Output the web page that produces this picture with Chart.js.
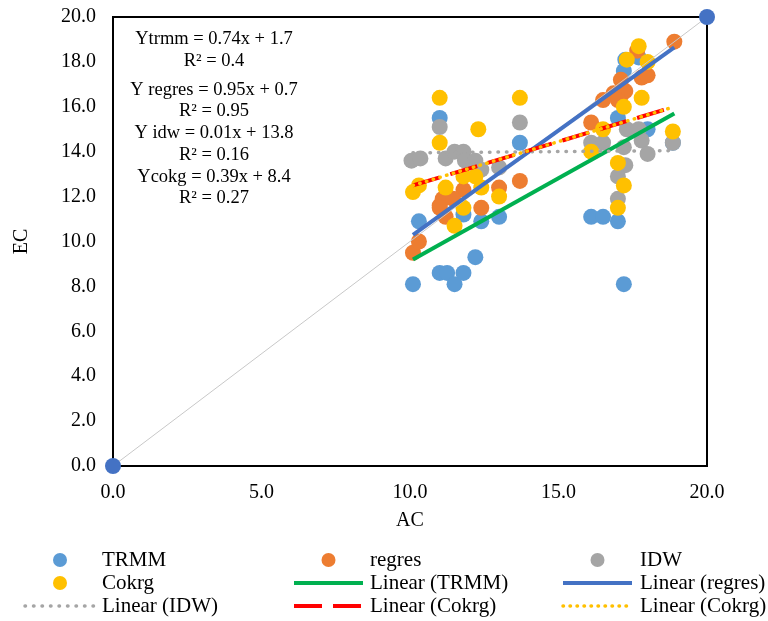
<!DOCTYPE html>
<html>
<head>
<meta charset="utf-8">
<script src="https://cdn.jsdelivr.net/npm/chart.js@4.4.0/dist/chart.umd.min.js"></script>
<style>
  html, body { margin: 0; padding: 0; background: #fff; }
  #wrap { width: 768px; height: 621px; }
</style>
</head>
<body>
<div id="wrap"><canvas id="chart" width="768" height="621"></canvas></div>
<script>
// values
const trmmX   = [10.1, 10.3, 11.0, 11.25, 11.5, 11.8, 12.2, 11.8, 12.4, 13.0, 11.0, 13.7, 17.25, 17.2, 17.7, 17.0, 18.0, 18.85, 16.1, 16.5, 17.0, 17.2];
const trmmY   = [8.1, 10.9, 8.6, 8.6, 8.1, 8.6, 9.3, 11.2, 10.9, 11.1, 15.5, 14.4, 18.1, 17.6, 18.2, 15.5, 15.0, 14.4, 11.1, 11.1, 10.9, 8.1];
const regresX = [10.1, 10.3, 11.0, 11.2, 12.4, 11.1, 11.8, 13.0, 13.7, 11.0, 11.45, 18.9, 17.65, 17.8, 18.0, 17.1, 17.1, 16.85, 16.5, 16.1, 17.25, 17.0];
const regresY = [9.5, 10.0, 11.6, 11.1, 11.5, 11.9, 12.3, 12.4, 12.7, 11.5, 11.9, 18.9, 18.5, 17.3, 17.4, 17.2, 16.5, 16.6, 16.3, 15.3, 16.7, 16.3];
const idwX    = [11.0, 13.7, 10.05, 10.35, 11.2, 11.5, 11.8, 11.85, 12.2, 12.4, 13.0, 16.1, 16.5, 17.3, 17.7, 17.8, 17.2, 18.85, 18.0, 17.25, 17.0, 17.0];
const idwY    = [15.1, 15.3, 13.6, 13.7, 13.7, 14.0, 14.0, 13.6, 13.6, 13.2, 13.3, 14.4, 14.4, 15.0, 15.0, 14.5, 14.2, 14.4, 13.9, 13.4, 12.9, 11.9];
const cokrgX  = [11.0, 13.7, 12.3, 11.0, 10.1, 10.3, 11.2, 11.8, 12.2, 12.4, 13.0, 11.5, 11.8, 17.7, 17.3, 18.0, 17.8, 17.2, 16.5, 18.85, 16.1, 17.0, 17.2, 17.0];
const cokrgY  = [16.4, 16.4, 15.0, 14.4, 12.2, 12.5, 12.4, 12.9, 12.9, 12.4, 12.0, 10.7, 11.5, 18.7, 18.1, 18.0, 16.4, 16.0, 15.0, 14.9, 14.0, 13.5, 12.5, 11.5];

// trend line end points
const trendX       = [10.1, 18.9];
const trmmTrendY   = [9.2, 15.7];
const regresTrendY = [10.3, 18.65];
const idwTrendY    = [13.95, 14.05];
const cokrgTrendY  = [12.5, 16.0];

const diagonalX = [0, 20];
const diagonalY = [0, 20];

const equationLines = [
  'Ytrmm = 0.74x + 1.7', 'R² = 0.4',
  'Y regres = 0.95x + 0.7', 'R² = 0.95',
  'Y idw = 0.01x + 13.8', 'R² = 0.16',
  'Ycokg = 0.39x + 8.4', 'R² = 0.27'
];

const SERIF = "'Liberation Serif', 'Times New Roman', serif";

const pts = (xs, ys) => xs.map((x, i) => ({ x, y: ys[i] }));

function scatterSet(label, xs, ys, color, order) {
  return {
    label, data: pts(xs, ys), order,
    showLine: false,
    pointRadius: 8, pointHoverRadius: 8,
    pointBackgroundColor: color, pointBorderWidth: 0, borderColor: color
  };
}

function lineSet(label, ys, color, order, extra = {}) {
  return Object.assign({
    label, data: pts(trendX, ys), order,
    showLine: true, borderColor: color, backgroundColor: color,
    borderWidth: 4, pointRadius: 0, pointHoverRadius: 0
  }, extra);
}

const datasets = [
  scatterSet('TRMM', trmmX, trmmY, '#5B9BD5', 10),
  scatterSet('regres', regresX, regresY, '#ED7D31', 9),
  scatterSet('IDW', idwX, idwY, '#A5A5A5', 8),
  scatterSet('Cokrg', cokrgX, cokrgY, '#FFC000', 7),
  lineSet('Linear (TRMM)', trmmTrendY, '#00B050', 5),
  lineSet('Linear (regres)', regresTrendY, '#4472C4', 4),
  lineSet('Linear (IDW)', idwTrendY, '#A5A5A5', 3, { borderWidth: 3.5, borderDash: [0.5, 8], borderCapStyle: 'round' }),
  lineSet('Linear (Cokrg)', cokrgTrendY, '#FF0000', 2, { borderDash: [28, 11] }),
  lineSet('Linear (Cokrg)', cokrgTrendY, '#FFC000', 1, { borderWidth: 3.5, borderDash: [0.5, 6.5], borderCapStyle: 'round' }),
  {
    label: '1:1', data: pts(diagonalX, diagonalY), order: 6, showLine: true,
    borderColor: '#C8C8C8', borderWidth: 1, clip: false,
    pointRadius: 8, pointHoverRadius: 8, pointBackgroundColor: '#4472C4', pointBorderWidth: 0
  }
];

const boxPlugin = {
  id: 'box',
  beforeDatasetsDraw(chart) {
    const { ctx, chartArea: a } = chart;
    ctx.save();
    ctx.strokeStyle = '#000';
    ctx.lineWidth = 2;
    ctx.strokeRect(a.left, a.top, a.right - a.left, a.bottom - a.top);
    ctx.restore();
  }
};

const textPlugin = {
  id: 'texts',
  afterDraw(chart) {
    const { ctx } = chart;
    ctx.save();
    ctx.fillStyle = '#000';
    ctx.textBaseline = 'middle';

    // equations
    ctx.textAlign = 'center';
    ctx.font = `18.5px ${SERIF}`;
    const eqY = [39, 61, 90, 111, 133, 155, 177, 198];
    equationLines.forEach((t, i) => ctx.fillText(t, 214, eqY[i]));

    // legend, 3 columns
    ctx.textAlign = 'left';
    ctx.font = `21px ${SERIF}`;
    const colText = [102, 370, 640];
    const colLine = [[25, 95], [294, 363], [563, 632]];
    const rowY = [560, 583, 606];
    datasets.slice(0, 9).forEach((ds, i) => {
      const c = i % 3, r = Math.floor(i / 3);
      const y = rowY[r];
      if (ds.showLine) {
        ctx.save();
        ctx.strokeStyle = ds.borderColor;
        ctx.lineWidth = ds.borderWidth;
        ctx.lineCap = ds.borderCapStyle || 'butt';
        ctx.setLineDash(ds.borderDash || []);
        ctx.beginPath();
        ctx.moveTo(colLine[c][0], y);
        ctx.lineTo(colLine[c][1], y);
        ctx.stroke();
        ctx.restore();
      } else {
        ctx.beginPath();
        ctx.fillStyle = ds.pointBackgroundColor;
        ctx.arc((colLine[c][0] + colLine[c][1]) / 2, y, 7, 0, Math.PI * 2);
        ctx.fill();
      }
      ctx.fillStyle = '#000';
      ctx.fillText(ds.label, colText[c], y);
    });
    ctx.restore();
  }
};

new Chart(document.getElementById('chart'), {
  type: 'scatter',
  data: { datasets },
  options: {
    responsive: false,
    devicePixelRatio: 1,
    animation: false,
    layout: { padding: { left: 10, right: 61, top: 17, bottom: 88 } },
    plugins: { legend: { display: false }, tooltip: { enabled: false } },
    scales: {
      x: {
        type: 'linear', min: 0, max: 20,
        grid: { display: false, drawTicks: false },
        border: { display: false },
        ticks: {
          stepSize: 5, padding: 15, color: '#000',
          font: { family: SERIF, size: 20 },
          callback: v => v.toFixed(1)
        },
        title: { display: true, text: 'AC', color: '#000', padding: 0, font: { family: SERIF, size: 20 } },
        afterFit(s) { s.height = 67; s.paddingLeft = 0; s.paddingRight = 0; }
      },
      y: {
        type: 'linear', min: 0, max: 20,
        grid: { display: false, drawTicks: false },
        border: { display: false },
        ticks: {
          stepSize: 2, padding: 17, color: '#000',
          font: { family: SERIF, size: 20 },
          callback: v => v.toFixed(1)
        },
        title: { display: true, text: 'EC', color: '#000', padding: 0, font: { family: SERIF, size: 20 } },
        afterFit(s) { s.width = 103; s.paddingTop = 0; s.paddingBottom = 0; }
      }
    }
  },
  plugins: [boxPlugin, textPlugin]
});
</script>
</body>
</html>
